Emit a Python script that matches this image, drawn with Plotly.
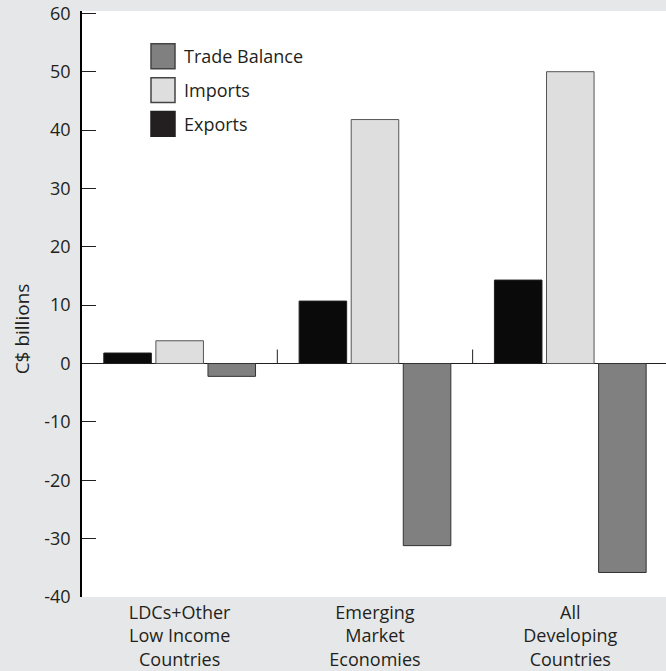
import plotly.graph_objects as go

# Data
categories = ["LDCs+Other<br>Low Income<br>Countries",
              "Emerging<br>Market<br>Economies",
              "All<br>Developing<br>Countries"]
exports = [1.8, 10.7, 14.3]
imports = [3.9, 41.8, 50.0]
trade_balance = [-2.2, -31.2, -35.8]

y_ticks = [-40, -30, -20, -10, 0, 10, 20, 30, 40, 50, 60]

series = [
    ("Exports", exports, "#0a0a0a", "#231f20"),
    ("Imports", imports, "#dedede", "#555555"),
    ("Trade Balance", trade_balance, "#808080", "#333333"),
]

FONT = "Open Sans, Lato, sans-serif"
TXT = "#231f20"
BG = "#e6e7e8"

W, H = 666, 671
ML, MR, MT, MB = 82, 0, 11, 71
plot_w = W - ML - MR
plot_h = H - MT - MB

fig = go.Figure()
for name, vals, fill, edge in series:
    fig.add_trace(go.Bar(
        x=list(range(len(categories))),
        y=vals,
        name=name,
        marker=dict(color=fill, line=dict(color=edge, width=1)),
        showlegend=False,
    ))

# small separators between category groups, rising from zero line
shapes = []
for i in range(len(categories) - 1):
    shapes.append(dict(type="line", xref="x", yref="y",
                       x0=i + 0.5, x1=i + 0.5, y0=0, y1=2.4,
                       line=dict(color="#231f20", width=1)))

# hand-built legend (large square swatches)
annotations = []
legend_order = ["Trade Balance", "Imports", "Exports"]
lookup = {s[0]: s for s in series}
for i, name in enumerate(legend_order):
    _, _, fill, edge = lookup[name]
    cy = 56.5 + 34 * i  # px from top
    yc = 1 - (cy - MT) / plot_h
    half = 12.5 / plot_h
    shapes.append(dict(type="rect", xref="paper", yref="paper",
                       x0=(151 - ML) / plot_w, x1=(175 - ML) / plot_w,
                       y0=yc - half, y1=yc + half,
                       fillcolor=fill if name != "Exports" else "#231f20",
                       line=dict(color="#444444" if name != "Exports" else "#231f20", width=1.5)))
    annotations.append(dict(xref="paper", yref="paper",
                            x=(182 - ML) / plot_w, y=yc,
                            xanchor="left", yanchor="middle",
                            text=name, showarrow=False,
                            font=dict(family=FONT, size=18, color=TXT)))

# y-axis title
annotations.append(dict(xref="paper", yref="paper",
                        x=(22 - ML) / plot_w, y=1 - (331 - MT) / plot_h,
                        xanchor="center", yanchor="middle",
                        text="C$ billions", textangle=-90, showarrow=False,
                        font=dict(family=FONT, size=19, color=TXT)))

fig.update_layout(
    width=W, height=H,
    margin=dict(l=ML, r=MR, t=MT, b=MB, pad=0),
    paper_bgcolor=BG,
    plot_bgcolor="white",
    barmode="group",
    bargap=0.2,
    bargroupgap=0.087,
    font=dict(family=FONT, size=18, color=TXT),
    shapes=shapes,
    annotations=annotations,
    showlegend=False,
)

fig.update_xaxes(
    range=[-0.5, 2.49],
    tickvals=list(range(len(categories))),
    ticktext=categories,
    showgrid=False, showline=False, zeroline=False,
    ticks="", tickfont=dict(family=FONT, size=18, color=TXT),
    ticklabelstandoff=3,
)

fig.update_yaxes(
    range=[-40, 60.4],
    tickvals=y_ticks,
    ticktext=[str(v) for v in y_ticks],
    showgrid=False,
    showline=True, linecolor="#000000", linewidth=1.5,
    ticks="inside", ticklen=14, tickcolor="#231f20", tickwidth=1,
    zeroline=True, zerolinecolor="#231f20", zerolinewidth=1,
    tickfont=dict(family=FONT, size=18, color=TXT),
    ticklabelstandoff=6,
)

fig.write_html("out.html", config={"displayModeBar": False},
               post_script="document.body.style.margin='0';")
